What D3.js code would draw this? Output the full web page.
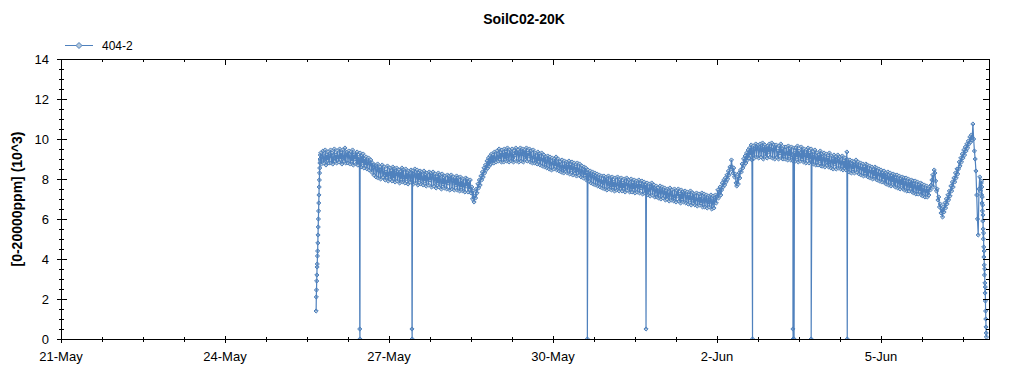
<!DOCTYPE html>
<html>
<head>
<meta charset="utf-8">
<script src="https://cdn.jsdelivr.net/npm/d3@7"></script>
<style>
  html, body { margin: 0; padding: 0; background: #fff; }
  svg { display: block; font-family: "Liberation Sans", Arial, sans-serif; }
</style>
</head>
<body>
<svg id="chart" width="1024" height="375"></svg>
<script>
// SoilC02-20K sensor trace, series "404-2", readings in 10^3 ppm.

const TITLE   = "SoilC02-20K";
const Y_LABEL = "[0-20000ppm] (10^3)";
const SERIES  = "404-2";

const X_DOMAIN = ["2012-05-21 00:00", "2012-06-06 23:24"];
const X_TICKS  = ["2012-05-21", "2012-05-24", "2012-05-27", "2012-05-30", "2012-06-02", "2012-06-05"];
const Y_TICKS  = [0, 2, 4, 6, 8, 10, 12, 14];

// start-up ramp, 5-minute readings
const RISE_START = "2012-05-25 16:00";
const RISE_STEP  = 5;
const RISE_VALUES = [1.4, 2.1, 2.45, 2.9, 3.2, 3.6, 3.75, 4.15, 4.4, 4.8, 5.2, 5.6,
  6.0, 6.4, 6.8, 7.2, 7.6, 7.95, 8.3, 8.55, 8.8, 9.0, 9.2, 8.9];

// main record, 20-minute readings (one row = 4 hours)
const MAIN_START = "2012-05-25 18:00";
const MAIN_STEP  = 20;
const MAIN_VALUES = [
  9.3, 8.75, 9.1, 9.4, 8.8, 9.0, 9.45, 8.7, 9.2, 8.95, 9.35, 8.8,
  9.15, 9.45, 8.8, 9.3, 8.75, 9.05, 9.5, 8.9, 9.2, 8.8, 9.4, 9.1,
  8.85, 9.5, 9.0, 9.3, 8.75, 9.45, 9.1, 8.9, 9.55, 8.8, 9.2, 9.35,
  8.8, 9.4, 9.1, 8.75, 9.35, 8.9, 9.45, 8.7, 9.2, 9.0, 9.3, 8.75,
  9.35, 8.7, 9.1, 8.85, 9.3, 8.6, 9.15, 8.8, 9.25, 8.55, 9.0, 8.7,
  9.1, 8.5, 8.85, 9.05, 8.45, 8.75, 8.95, 8.35, 8.8, 8.55, 8.2, 8.7,
  8.65, 8.1, 8.5, 8.75, 8.05, 8.4, 8.6, 8.0, 8.45, 8.7, 8.1, 8.3,
  8.6, 7.95, 8.35, 8.1, 8.65, 7.9, 8.25, 8.55, 8.0, 8.4, 7.9, 8.6,
  8.05, 8.5, 7.85, 8.3, 8.55, 7.9, 8.2, 8.45, 7.8, 8.35, 8.0, 8.55,
  7.85, 8.45, 8.1, 7.8, 8.5, 8.0, 8.3, 7.75, 8.4, 8.15, 7.85, 8.45,
  8.0, 8.4, 7.75, 8.25, 8.5, 7.8, 8.1, 8.45, 7.7, 8.3, 7.95, 8.4,
  7.75, 8.35, 8.05, 7.7, 8.4, 7.9, 8.2, 7.65, 8.3, 8.0, 7.7, 8.35,
  7.95, 8.3, 7.6, 8.15, 8.35, 7.65, 8.0, 8.25, 7.55, 8.1, 7.8, 8.3,
  7.6, 8.2, 7.9, 7.5, 8.25, 7.75, 8.05, 7.55, 8.15, 7.85, 7.5, 8.2,
  7.8, 8.15, 7.45, 8.0, 8.2, 7.5, 7.9, 8.1, 7.45, 8.05, 7.7, 8.15,
  7.45, 8.05, 7.75, 7.4, 8.1, 7.6, 7.9, 7.4, 8.0, 7.7, 7.35, 8.05,
  7.65, 8.0, 7.35, 7.85, 7.5, 7.95, 7.3, 7.6, 7.0, 7.4, 6.85, 7.15,
  7.05, 7.5, 7.3, 7.75, 7.55, 7.95, 7.7, 8.15, 7.95, 8.35, 8.1, 8.55,
  8.3, 8.7, 8.45, 8.9, 8.55, 9.05, 8.65, 9.15, 8.75, 9.25, 8.8, 9.2,
  8.8, 9.35, 9.0, 8.85, 9.4, 9.1, 8.9, 9.5, 9.0, 9.3, 8.85, 9.45,
  9.2, 8.85, 9.5, 9.0, 9.35, 8.9, 9.55, 9.15, 8.85, 9.45, 9.25, 8.9,
  9.5, 9.05, 8.85, 9.4, 9.2, 9.55, 8.9, 9.3, 9.45, 8.85, 9.25, 9.55,
  8.9, 9.35, 9.5, 8.85, 9.2, 9.45, 9.0, 9.55, 8.9, 9.3, 9.15, 9.5,
  8.85, 9.4, 9.05, 8.8, 9.45, 9.1, 8.8, 9.3, 9.0, 8.75, 9.35, 8.9,
  9.25, 8.7, 9.0, 9.3, 8.65, 8.95, 9.2, 8.6, 9.1, 8.85, 8.55, 9.15,
  8.95, 8.5, 9.1, 8.75, 8.45, 9.05, 8.8, 8.5, 9.0, 8.65, 9.1, 8.45,
  8.7, 9.0, 8.4, 8.85, 8.6, 8.35, 8.95, 8.55, 8.3, 8.9, 8.65, 8.4,
  8.85, 8.3, 8.6, 8.9, 8.25, 8.7, 8.45, 8.85, 8.2, 8.55, 8.8, 8.3,
  8.6, 8.15, 8.8, 8.45, 8.2, 8.75, 8.4, 8.1, 8.65, 8.35, 8.05, 8.6,
  8.2, 8.55, 7.95, 8.3, 8.45, 7.9, 8.2, 8.4, 7.8, 8.15, 8.35, 7.75,
  8.1, 8.3, 7.7, 8.0, 8.25, 7.65, 7.95, 8.2, 7.6, 7.9, 8.15, 7.55,
  7.8, 8.15, 7.5, 7.95, 8.1, 7.45, 7.85, 8.15, 7.5, 7.7, 8.05, 7.45,
  8.1, 7.6, 7.85, 7.4, 8.05, 7.7, 7.45, 8.1, 7.75, 7.4, 7.95, 7.55,
  8.05, 7.4, 7.8, 7.55, 8.0, 7.35, 7.75, 8.05, 7.45, 7.7, 7.95, 7.35,
  7.6, 8.0, 7.35, 7.8, 7.5, 7.95, 7.3, 7.7, 7.9, 7.35, 7.6, 7.95,
  7.3, 7.75, 7.55, 7.9, 7.25, 7.6, 7.85, 7.3, 7.7, 7.4, 7.8, 7.2,
  7.45, 7.75, 7.15, 7.6, 7.8, 7.2, 7.5, 7.7, 7.1, 7.4, 7.65, 7.1,
  7.55, 7.05, 7.35, 7.65, 7.0, 7.4, 7.6, 7.05, 7.3, 7.55, 6.95, 7.4,
  7.0, 7.5, 7.2, 6.9, 7.55, 7.25, 6.95, 7.45, 7.1, 6.9, 7.5, 7.15,
  6.85, 7.4, 7.15, 7.5, 6.9, 7.25, 6.8, 7.45, 7.0, 7.35, 6.85, 7.3,
  7.4, 6.8, 7.1, 7.35, 6.75, 7.2, 6.95, 7.4, 6.7, 7.05, 7.3, 6.8,
  7.25, 6.7, 7.0, 7.3, 6.65, 6.95, 7.25, 6.7, 7.1, 6.8, 7.3, 6.6,
  6.9, 7.25, 6.6, 7.0, 7.2, 6.55, 6.85, 7.15, 6.6, 6.95, 7.2, 6.5,
  6.8, 7.15, 6.55, 6.95, 7.2, 6.8, 7.1, 7.45, 7.05, 7.35, 7.6, 7.2,
  7.45, 7.8, 7.6, 7.95, 7.7, 8.05, 7.85, 8.2, 8.0, 8.4, 8.2, 8.6,
  8.5, 8.95, 8.6, 8.3, 8.55, 8.1, 8.25, 7.8, 7.65, 8.1, 7.75, 8.3,
  8.05, 8.45, 8.35, 8.75, 8.55, 9.0, 8.7, 9.15, 8.8, 9.3, 8.95, 9.45,
  9.05, 9.55, 9.2, 9.7, 8.95, 9.45, 9.65, 9.05, 9.5, 9.75, 9.1, 9.6,
  9.7, 9.05, 9.45, 9.75, 9.1, 9.55, 9.8, 9.0, 9.4, 9.7, 9.15, 9.6,
  9.05, 9.65, 9.35, 9.75, 9.1, 9.5, 9.8, 9.05, 9.45, 9.7, 9.0, 9.6,
  9.7, 9.1, 9.4, 9.0, 9.65, 9.3, 9.75, 9.05, 9.5, 9.0, 9.6, 9.25,
  9.0, 9.6, 9.3, 8.95, 9.65, 9.15, 9.5, 8.95, 9.6, 9.2, 8.9, 9.55,
  9.3, 8.9, 9.55, 9.1, 9.65, 8.85, 9.4, 9.2, 8.9, 9.6, 9.0, 9.45,
  8.85, 9.5, 9.2, 8.8, 9.45, 9.05, 9.55, 8.8, 9.3, 9.0, 9.5, 8.85,
  9.35, 8.75, 9.1, 9.45, 8.7, 9.0, 9.3, 8.7, 9.2, 8.9, 9.4, 8.65,
  9.25, 8.65, 9.0, 9.3, 8.6, 8.95, 9.25, 8.7, 9.05, 8.6, 9.3, 8.85,
  8.55, 9.15, 8.9, 8.5, 9.2, 8.75, 9.1, 8.5, 8.95, 9.2, 8.55, 8.85,
  9.1, 8.5, 8.8, 9.15, 8.45, 8.9, 8.55, 9.05, 8.45, 9.35, 8.6, 8.95,
  8.35, 8.95, 8.65, 8.3, 8.9, 8.5, 8.85, 8.3, 8.7, 8.95, 8.35, 8.6,
  8.85, 8.25, 8.55, 8.8, 8.2, 8.5, 8.75, 8.15, 8.6, 8.3, 8.75, 8.15,
  8.7, 8.1, 8.4, 8.65, 8.05, 8.35, 8.6, 8.0, 8.45, 8.15, 8.6, 8.0,
  8.55, 7.95, 8.25, 8.5, 7.9, 8.2, 8.45, 7.85, 8.3, 8.0, 8.4, 7.8,
  8.3, 7.75, 8.1, 8.35, 7.7, 8.0, 8.3, 7.65, 8.15, 7.85, 8.25, 7.65,
  8.2, 7.6, 7.95, 8.2, 7.55, 7.85, 8.15, 7.5, 8.0, 7.7, 8.1, 7.5,
  8.05, 7.45, 7.8, 8.05, 7.4, 7.7, 8.0, 7.4, 7.85, 7.55, 7.95, 7.35,
  7.9, 7.3, 7.65, 7.9, 7.25, 7.55, 7.85, 7.25, 7.7, 7.4, 7.8, 7.2,
  7.75, 7.15, 7.45, 7.7, 7.1, 7.4, 7.65, 7.1, 7.5, 7.2, 7.6, 7.45,
  7.7, 7.95, 8.2, 7.6, 8.45, 8.3, 7.9, 7.4, 7.5, 6.95, 7.1, 6.6,
  6.75, 6.3, 6.5, 6.1, 6.6, 6.35, 6.8, 6.55, 7.0, 6.75, 7.2, 6.95,
  7.4, 7.15, 7.65, 7.4, 7.85, 7.6, 8.05, 7.85, 8.3, 8.05, 8.5, 8.25,
  8.5, 8.85, 8.65, 9.05, 8.85, 9.25, 9.05, 9.45, 9.2, 9.6, 9.4, 9.75,
  9.55, 9.9, 9.75, 10.1, 9.85, 10.2, 9.95, 10.75, 10.0, 9.4, 9.0, 8.4,
  7.2, 6.0, 5.2, 7.5, 8.1, 7.4, 7.8
];

// final collapse, 5-minute readings
const FALL_START = "2012-06-06 20:05";
const FALL_STEP  = 5;
const FALL_VALUES = [7.9, 7.2, 7.6, 6.8, 7.1, 6.4, 6.7, 5.9, 6.2, 5.5, 5.0, 5.3, 4.6, 4.1,
  4.4, 3.7, 3.2, 3.5, 2.8, 2.3, 2.6, 1.9, 1.4, 1.0, 0.6, 0.3, 0.1];

// isolated dropouts
const DROP_TIMES = ["2012-05-26 11:10", "2012-05-26 11:15", "2012-05-27 10:05", "2012-05-27 10:10",
  "2012-05-30 15:05", "2012-05-31 16:50", "2012-06-02 15:35", "2012-06-03 09:20",
  "2012-06-03 09:25", "2012-06-03 09:50", "2012-06-03 17:20", "2012-06-04 09:10"];
const DROP_VALUES = [0.5, 0, 0.5, 0, 0, 0.5, 0, 0.5, 0, 0, 0, 0];

const LINE_COLOR = "#4f81bd";
const MARK_FILL  = "#b4c8da";

// ── Build series ─────────────────────────────────────────────────────────────

const parse    = d3.timeParse("%Y-%m-%d %H:%M");
const parseDay = d3.timeParse("%Y-%m-%d");

function stepped(start, stepMin, values) {
  const t0 = parse(start);
  return values.map((v, i) => ({ t: d3.timeMinute.offset(t0, i * stepMin), v }));
}

const data = [
  ...stepped(RISE_START, RISE_STEP, RISE_VALUES),
  ...stepped(MAIN_START, MAIN_STEP, MAIN_VALUES),
  ...stepped(FALL_START, FALL_STEP, FALL_VALUES),
  ...DROP_TIMES.map((s, i) => ({ t: parse(s), v: DROP_VALUES[i] })),
].sort((a, b) => a.t - b.t);

// ── Layout ───────────────────────────────────────────────────────────────────

const L = 61, R = 989, T = 59, B = 339;
const svg = d3.select("#chart");

const x = d3.scaleTime().domain(X_DOMAIN.map(parse)).range([L, R]);
const y = d3.scaleLinear().domain([0, 14]).range([B, T]);

svg.append("text")
  .attr("x", 524).attr("y", 24).attr("text-anchor", "middle")
  .style("font-size", "14px").style("font-weight", "bold").text(TITLE);

svg.append("text")
  .attr("transform", `translate(22,${(T + B) / 2}) rotate(-90)`)
  .attr("text-anchor", "middle")
  .style("font-size", "14px").style("font-weight", "bold").text(Y_LABEL);

// legend
svg.append("line").attr("x1", 65).attr("x2", 93).attr("y1", 45.5).attr("y2", 45.5)
  .attr("stroke", LINE_COLOR).attr("stroke-width", 1);
svg.append("path").attr("d", "M0,-3L3,0L0,3L-3,0Z").attr("transform", "translate(79,45.5)")
  .attr("fill", MARK_FILL).attr("stroke", LINE_COLOR).attr("stroke-width", 1);
svg.append("text").attr("x", 102).attr("y", 49.5).style("font-size", "12px").text(SERIES);

// ── Series ───────────────────────────────────────────────────────────────────

svg.append("clipPath").attr("id", "plot-clip")
  .append("rect").attr("x", L).attr("y", T).attr("width", R - L).attr("height", B - T);

const plot = svg.append("g").attr("clip-path", "url(#plot-clip)");

// markers first, trace on top so the dense band reads mostly blue
plot.append("g").selectAll("path")
  .data(data)
  .join("path")
    .attr("d", "M0,-2.1L2.1,0L0,2.1L-2.1,0Z")
    .attr("transform", d => `translate(${x(d.t)},${y(d.v)})`)
    .attr("fill", MARK_FILL).attr("stroke", LINE_COLOR).attr("stroke-width", 1);

plot.append("path")
  .datum(data)
  .attr("fill", "none").attr("stroke", LINE_COLOR).attr("stroke-width", 1.2)
  .attr("d", d3.line().x(d => x(d.t)).y(d => y(d.v)));

// ── Axes / frame ─────────────────────────────────────────────────────────────

const ax = svg.append("g").attr("stroke", "#000").attr("stroke-width", 1).attr("shape-rendering", "crispEdges");
ax.append("rect").attr("x", L + 0.5).attr("y", T + 0.5).attr("width", R - L).attr("height", B - T)
  .attr("fill", "none");

const xMajor = X_TICKS.map(parseDay);
const xMinor = d3.range(0, 23).map(k => d3.timeHour.offset(xMajor[0], k * 18))
  .filter(d => d <= x.domain()[1] && !xMajor.some(m => +m === +d));

xMajor.forEach(d => {
  const tx = Math.round(x(d)) + 0.5;
  ax.append("line").attr("x1", tx).attr("x2", tx).attr("y1", B - 3).attr("y2", B + 4);
  ax.append("line").attr("x1", tx).attr("x2", tx).attr("y1", T).attr("y2", T + 6);
});
xMinor.forEach(d => {
  const tx = Math.round(x(d)) + 0.5;
  ax.append("line").attr("x1", tx).attr("x2", tx).attr("y1", B - 2).attr("y2", B + 3);
  ax.append("line").attr("x1", tx).attr("x2", tx).attr("y1", T).attr("y2", T + 3);
});

d3.range(0, 14.01, 0.5).forEach(v => {
  const ty = Math.round(y(v)) + 0.5;
  const major = Y_TICKS.includes(v);
  ax.append("line").attr("x1", major ? L - 4 : L - 2).attr("x2", major ? L + 6 : L + 3).attr("y1", ty).attr("y2", ty);
  ax.append("line").attr("x1", major ? R - 6 : R - 3).attr("x2", R).attr("y1", ty).attr("y2", ty);
});

svg.append("g").selectAll("text")
  .data(xMajor)
  .join("text")
    .attr("x", d => x(d)).attr("y", 361).attr("text-anchor", "middle")
    .style("font-size", "13px")
    .text(d3.timeFormat("%-d-%b"));

svg.append("g").selectAll("text")
  .data(Y_TICKS)
  .join("text")
    .attr("x", 49).attr("y", d => y(d)).attr("dy", "0.35em").attr("text-anchor", "end")
    .style("font-size", "13px")
    .text(d => d);
</script>
</body>
</html>
